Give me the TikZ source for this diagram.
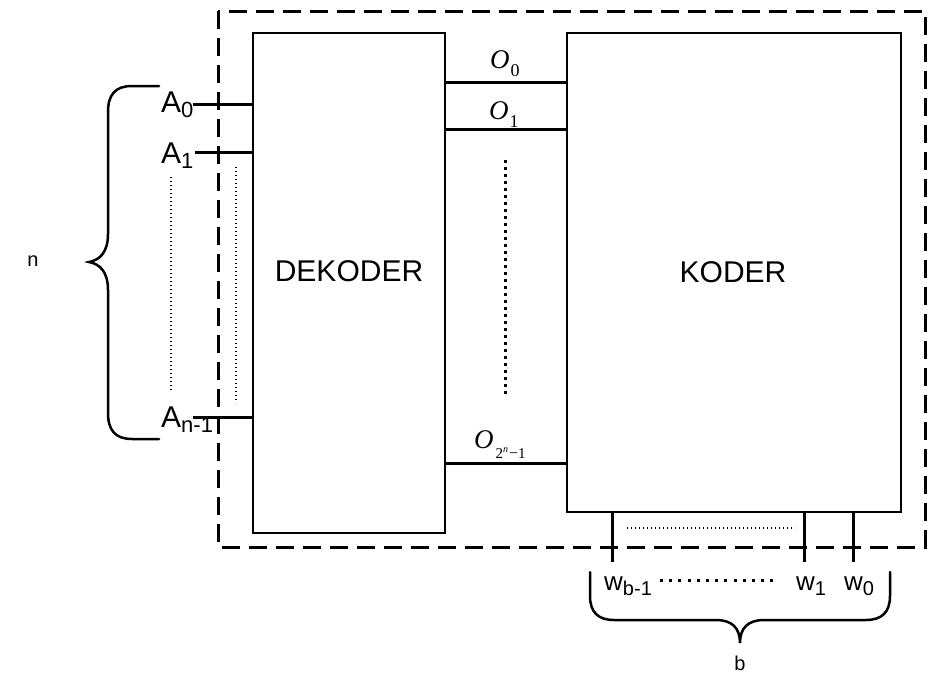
\documentclass[tikz,border=0pt]{standalone}
\usepackage{fontspec}
\setmainfont{Liberation Sans}
\newfontfamily\tnr{Liberation Serif}
\newcommand\fs[1]{\fontsize{#1}{#1}\selectfont}
\newcommand\Alab[1]{{\fs{30}A}\raisebox{-5pt}{\fs{22}#1}}
\newcommand\wlab[1]{{\fs{26}w}\raisebox{-5pt}{\fs{20}#1}}
\newcommand\Olab[1]{{\tnr\itshape\fs{27}O}\kern1pt\raisebox{-8pt}{\tnr\fs{18}#1}}
\begin{document}
\begin{tikzpicture}[x=1pt,y=-1pt,
  box/.style={draw=black,line width=2.5pt,rectangle,inner sep=0pt},
  conn/.style={line width=3pt},
  lab/.style={inner sep=0pt,anchor=base west},
  dashbox/.style={line width=3pt,dash pattern=on 18pt off 9pt},
  brace/.style={line width=2.5pt,line cap=round},
  finedot/.style={line width=1.3pt,dash pattern=on 1.3pt off 2.7pt},
  bigdot/.style={line width=3pt,dash pattern=on 3pt off 4pt}]
\useasboundingbox (0,0) rectangle (940,675);
% dashed enclosure
\draw[dashbox] (218,11) rectangle (925,547);
% boxes
\node[box,minimum width=192pt,minimum height=500pt] (dek) at (349,283) {};
\node[box,minimum width=334pt,minimum height=479pt] (kod) at (734,272.5) {};
\node[lab,anchor=base] (dektxt) at (349,281) {\fs{30}DEKODER};
\node[lab,anchor=base] (kodtxt) at (733,282) {\fs{30}KODER};
% input lines
\coordinate (a0) at (193,104);
\coordinate (a1) at (195,152);
\coordinate (an) at (193,417);
\draw[conn] (a0) -- (a0 -| dek.west);
\draw[conn] (a1) -- (a1 -| dek.west);
\draw[conn] (an) -- (an -| dek.west);
\node[lab] (la0) at (161,112) {\Alab{0}};
\node[lab] (la1) at (161,163) {\Alab{1}};
\node[lab] (lan) at (161,427) {\Alab{n-1}};
% dotted lines left
\coordinate (d1a) at (171,177); \coordinate (d1b) at (171,390);
\draw[finedot] (d1a) -- (d1b);
\coordinate (d2a) at (236,167); \coordinate (d2b) at (236,403);
\draw[finedot,line width=1.6pt] (d2a) -- (d2b);
% left brace
\draw[brace] (159,86) -- (132,86) .. controls (115,86) and (108,95) .. (108,112) -- (108,234)
  .. controls (108,252) and (100,260) .. (89,262)
  .. controls (100,264) and (108,272) .. (108,290) -- (108,413)
  .. controls (108,430) and (115,439) .. (132,439) -- (159,439);
\node[lab,anchor=base] (ln) at (33,266) {\fs{20}n};
% O lines
\coordinate (o0) at (445,82);
\coordinate (o1) at (445,129);
\coordinate (on) at (445,463);
\draw[conn] (o0 -| dek.east) -- (o0 -| kod.west);
\draw[conn] (o1 -| dek.east) -- (o1 -| kod.west);
\draw[conn] (on -| dek.east) -- (on -| kod.west);
\node[lab] (lo0) at (490,68) {\Olab{0}};
\node[lab] (lo1) at (489,119) {\Olab{1}};
\node[lab] (lon) at (474,448) {{\tnr\itshape\fs{27}O}\kern2pt\raisebox{-10pt}{\tnr\fs{15}2\raisebox{6pt}{\itshape\fs{10}n}\kern1pt{\fs{16}\textminus}1}};
\coordinate (mda) at (505,160); \coordinate (mdb) at (505,395);
\draw[bigdot] (mda) -- (mdb);
% output lines
\coordinate (wb) at (612,562);
\coordinate (w1) at (804,562);
\coordinate (w0) at (853,562);
\draw[conn] (wb |- kod.south) -- (wb);
\draw[conn] (w1 |- kod.south) -- (w1);
\draw[conn] (w0 |- kod.south) -- (w0);
\coordinate (hda) at (627,528); \coordinate (hdb) at (795,528);
\draw[finedot] (hda) -- (hdb);
\node[lab] (lwb) at (604,590) {\wlab{b-1}};
\node[lab] (lw1) at (796,590) {\wlab{1}};
\node[lab] (lw0) at (844,590) {\wlab{0}};
\coordinate (wda) at (660,580); \coordinate (wdb) at (775,580);
\draw[line width=3pt,dash pattern=on 3pt off 6.2pt] (wda) -- (wdb);
% bottom brace
\draw[brace] (590,572) -- (590,596) .. controls (590,612) and (598,620) .. (614,620) -- (716,620)
  .. controls (732,620) and (740,628) .. (740,643)
  .. controls (740,628) and (748,620) .. (764,620) -- (866,620)
  .. controls (882,620) and (890,612) .. (890,596) -- (890,572);
\node[lab,anchor=base] (lb) at (740,670) {\fs{20}b};
\end{tikzpicture}
\end{document}
